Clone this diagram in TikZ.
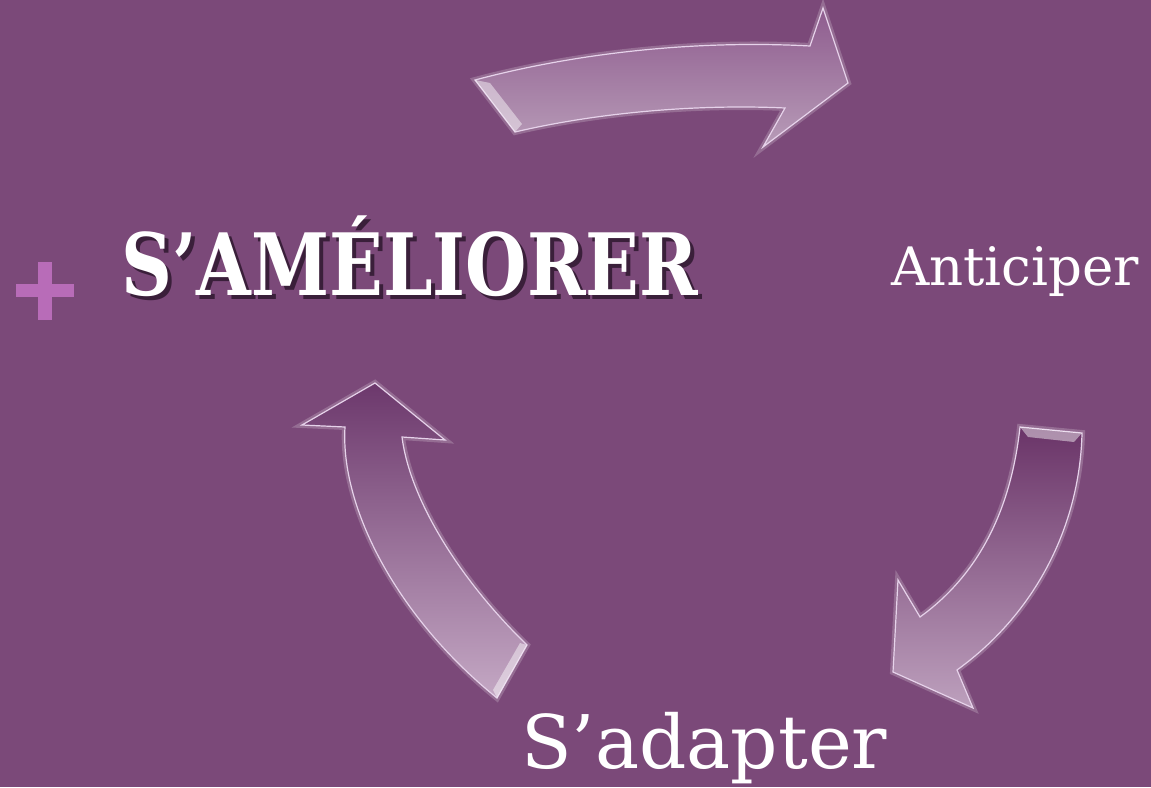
\documentclass[tikz,border=0pt]{standalone}
\usepackage{fontspec}
\setmainfont{DejaVu Serif}
\newfontfamily\titlefont[FakeStretch=0.82]{DejaVu Serif}
\usepackage{xcolor}
\usepackage{tikz}
\usetikzlibrary{positioning}
\definecolor{bgpurple}{HTML}{7B4979}
\definecolor{plusmauve}{HTML}{B86CB8}
\definecolor{edgelilac}{HTML}{E6D2EA}
\definecolor{shadowpurple}{HTML}{3A1F3A}
\definecolor{toptopc}{HTML}{8E5C8E}
\definecolor{topbotc}{HTML}{B89CB8}
\definecolor{righttopc}{HTML}{6A3468}
\definecolor{rightbotc}{HTML}{BDA0BD}
\definecolor{lefttopc}{HTML}{6C386C}
\definecolor{leftbotc}{HTML}{C4A8C4}
\newcommand{\titletext}{S’AMÉLIORER}
\tikzset{
    arrowbody/.style n args = {2}{shade, top color=#1, bottom color=#2, draw=edgelilac, line width=1.2pt, line join=miter,
        preaction={draw=white, opacity=0.2, line width=6pt}},
    bevel/.style = {fill=white, opacity=0.45},
    label/.style = {text=white, inner sep=0pt, anchor=base west},
}

\begin{document}
\begin{tikzpicture}[x=1pt, y=-1pt]
\tikzset{
    plusbar/.style = {fill=plusmauve},
    titlefnt/.style = {font=\titlefont\bfseries\fontsize{86}{90}\selectfont},
}
\useasboundingbox (0,0) rectangle (1151,787);
\fill[bgpurple] (0,0) rectangle (1151,787);
\fill[plusbar] (16,284) rectangle (74,297);
\fill[plusbar] (38,262) rectangle (52,320);
\node[label, titlefnt] at (121,295) (title) {\rlap{\hspace{4pt}\raisebox{-4pt}{\color{shadowpurple}\titletext}}\titletext};
\node[label] at (891,285) (anticiper) {\fontsize{53}{60}\selectfont Anticiper};
\node[label] at (521,768) (adapter) {\fontsize{74}{80}\selectfont S’adapter};
\path[arrowbody={toptopc}{topbotc}] (475,80) .. controls (580,52) and (700,40) .. (810,46)
    -- (823,8) -- (848,83) -- (763,147) -- (785,108)
    .. controls (700,104) and (600,112) .. (515,132) -- cycle;
\path[arrowbody={righttopc}{rightbotc}] (1020,427) -- (1082,433)
    .. controls (1080,520) and (1040,610) .. (957,670)
    -- (973,708) -- (893,672) -- (898,580) -- (920,617)
    .. controls (985,570) and (1012,500) .. (1020,427) -- cycle;
\path[arrowbody={lefttopc}{leftbotc}] (497,698) .. controls (400,620) and (340,510) .. (345,427)
    -- (302,425) -- (375,383) -- (445,440) -- (402,437)
    .. controls (410,500) and (460,580) .. (527,645) -- cycle;
\fill[bevel] (475,80) -- (490,83) -- (522,124) -- (515,132) -- cycle;
\fill[bevel] (1020,427) -- (1082,433) -- (1074,442) -- (1028,437) -- cycle;
\fill[bevel] (497,698) -- (527,645) -- (520,643) -- (493,690) -- cycle;
\end{tikzpicture}
\end{document}
